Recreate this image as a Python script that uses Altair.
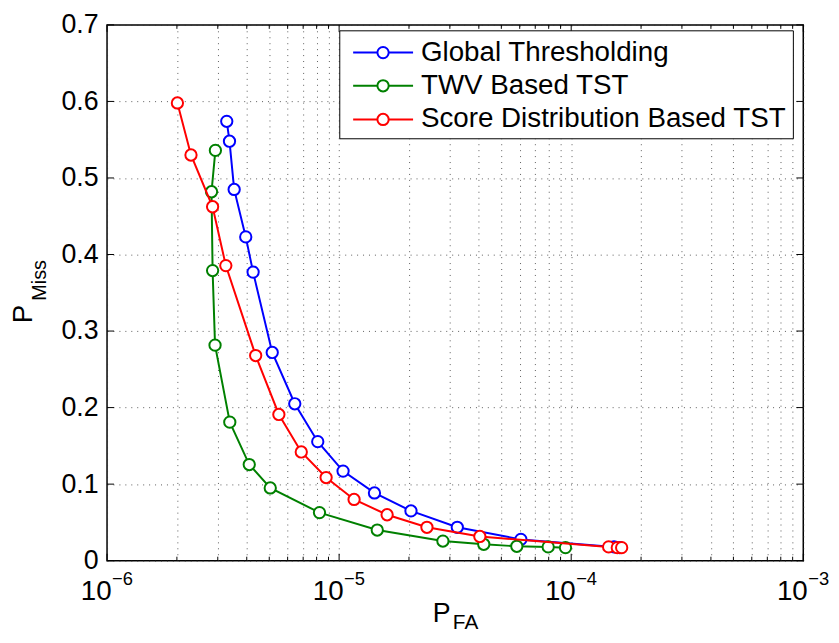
import altair as alt
import pandas as pd

# ---------------- data ----------------
series_names = ["Global Thresholding", "TWV Based TST", "Score Distribution Based TST"]
series_colors = ["#0000ff", "#008000", "#ff0000"]

gt_pfa = [3.28e-6, 3.37e-6, 3.53e-6, 3.96e-6, 4.26e-6, 5.15e-6, 6.44e-6, 8.09e-6,
          1.04e-5, 1.42e-5, 2.04e-5, 3.23e-5, 6.07e-5, 1.53e-4, 1.62e-4]
gt_pmiss = [0.574, 0.548, 0.485, 0.423, 0.377, 0.272, 0.205, 0.1555,
            0.117, 0.0885, 0.065, 0.0436, 0.0278, 0.018, 0.017]

twv_pfa = [2.93e-6, 2.82e-6, 2.85e-6, 2.92e-6, 3.38e-6, 4.10e-6, 5.05e-6, 8.23e-6,
           1.46e-5, 2.80e-5, 4.20e-5, 5.83e-5, 7.96e-5, 9.45e-5]
twv_pmiss = [0.536, 0.482, 0.379, 0.2816, 0.181, 0.1256, 0.095, 0.0628,
             0.040, 0.0256, 0.0214, 0.0188, 0.018, 0.017]

sd_pfa = [2.01e-6, 2.30e-6, 2.85e-6, 3.25e-6, 4.37e-6, 5.50e-6, 6.87e-6, 8.79e-6,
          1.16e-5, 1.61e-5, 2.39e-5, 4.04e-5, 1.45e-4, 1.58e-4, 1.65e-4]
sd_pmiss = [0.598, 0.530, 0.4624, 0.3855, 0.268, 0.191, 0.142, 0.1086,
            0.080, 0.060, 0.0436, 0.0316, 0.018, 0.017, 0.017]

x_major = [1e-6, 1e-5, 1e-4, 1e-3]
x_major_exp = ["\u22126", "\u22125", "\u22124", "\u22123"]
x_minor = [k * 10.0 ** e for e in (-6, -5, -4) for k in range(2, 10)]
y_ticks = [0, 0.1, 0.2, 0.3, 0.4, 0.5, 0.6, 0.7]

# ---------------- layout ----------------
W, H = 703, 541
FONT = "Liberation Sans"
GRID_COLOR = "#333333"
GRID_DASH = [1, 5]

x_scale = alt.Scale(type="log", domain=[1e-6, 1e-3], nice=False)
y_scale = alt.Scale(domain=[0, 0.7], nice=False, zero=False)

x_axis = alt.Axis(values=sorted(x_major + x_minor), labels=False, ticks=False, domain=False,
                  grid=True, gridColor=GRID_COLOR, gridDash=GRID_DASH, gridWidth=1,
                  gridOpacity=0.8, title=None)
y_axis = alt.Axis(values=y_ticks, format=".1~f", labelFontSize=27, labelFont=FONT,
                  labelColor="black", labelPadding=9, ticks=False, domain=False,
                  grid=True, gridColor=GRID_COLOR, gridDash=GRID_DASH, gridWidth=1,
                  gridOpacity=0.8, title=None)

X = alt.X("pfa:Q", scale=x_scale, axis=x_axis)
Y = alt.Y("pmiss:Q", scale=y_scale, axis=y_axis)

layers = []

# inside ticks
df_xmaj = pd.DataFrame({"pfa": x_major})
df_xmin = pd.DataFrame({"pfa": x_minor})
df_y = pd.DataFrame({"pmiss": y_ticks})
for df, ln in ((df_xmaj, 7), (df_xmin, 4)):
    layers.append(alt.Chart(df).mark_rule(color="black", strokeWidth=1).encode(
        x=X, y=alt.value(H), y2=alt.value(H - ln)))
    layers.append(alt.Chart(df).mark_rule(color="black", strokeWidth=1).encode(
        x=X, y=alt.value(0), y2=alt.value(ln)))
layers.append(alt.Chart(df_y).mark_rule(color="black", strokeWidth=1).encode(
    y=Y, x=alt.value(0), x2=alt.value(7)))
layers.append(alt.Chart(df_y).mark_rule(color="black", strokeWidth=1).encode(
    y=Y, x=alt.value(W - 7), x2=alt.value(W)))

# series
for pfa, pmiss, name, col in ((gt_pfa, gt_pmiss, series_names[0], series_colors[0]),
                              (twv_pfa, twv_pmiss, series_names[1], series_colors[1]),
                              (sd_pfa, sd_pmiss, series_names[2], series_colors[2])):
    df = pd.DataFrame({"pfa": pfa, "pmiss": pmiss, "idx": list(range(len(pfa)))})
    layers.append(alt.Chart(df).mark_line(color=col, strokeWidth=2).encode(
        x=X, y=Y, order="idx:Q"))
    layers.append(alt.Chart(df).mark_point(shape="circle", filled=True, fill="white",
                                           stroke=col, strokeWidth=2, size=130,
                                           opacity=1).encode(x=X, y=Y))

# x tick labels 10^e
df_lab = pd.DataFrame({"pfa": x_major, "base": ["10"] * 4, "exp": x_major_exp})
layers.append(alt.Chart(df_lab).mark_text(font=FONT, fontSize=28, color="black",
                                          align="center", baseline="middle", dx=-11).encode(
    x=X, y=alt.value(H + 32), text="base:N"))
layers.append(alt.Chart(df_lab).mark_text(font=FONT, fontSize=18.5, color="black",
                                          align="left", baseline="middle", dx=5).encode(
    x=X, y=alt.value(H + 19), text="exp:N"))

# axis titles with subscripts
layers.append(alt.Chart(pd.DataFrame({"t": ["P"]})).mark_text(
    font=FONT, fontSize=27, color="black", align="center", baseline="middle").encode(
    x=alt.value(338), y=alt.value(595), text="t:N"))
layers.append(alt.Chart(pd.DataFrame({"t": ["FA"]})).mark_text(
    font=FONT, fontSize=21, color="black", align="center", baseline="middle").encode(
    x=alt.value(362), y=alt.value(604), text="t:N"))
layers.append(alt.Chart(pd.DataFrame({"t": ["P"]})).mark_text(
    font=FONT, fontSize=28, color="black", align="center", baseline="middle", angle=270).encode(
    x=alt.value(-84), y=alt.value(292), text="t:N"))
layers.append(alt.Chart(pd.DataFrame({"t": ["Miss"]})).mark_text(
    font=FONT, fontSize=20, color="black", align="center", baseline="middle", angle=270).encode(
    x=alt.value(-67.5), y=alt.value(258), text="t:N"))

# legend
layers.append(alt.Chart(pd.DataFrame({"t": ["box"]})).mark_rect(
    fill="white", stroke="black", strokeWidth=1).encode(
    x=alt.value(235), x2=alt.value(693), y=alt.value(6), y2=alt.value(115)))
row_y = [28, 61.5, 95.5]
for name, col, ry in zip(series_names, series_colors, row_y):
    d = pd.DataFrame({"series": [name]})
    layers.append(alt.Chart(d).mark_rule(color=col, strokeWidth=2).encode(
        x=alt.value(248.5), x2=alt.value(309), y=alt.value(ry)))
    layers.append(alt.Chart(d).mark_point(shape="circle", filled=True, fill="white",
                                          stroke=col, strokeWidth=2, size=130,
                                          opacity=1).encode(
        x=alt.value(278.7), y=alt.value(ry)))
    layers.append(alt.Chart(d).mark_text(font=FONT, fontSize=28, color="black",
                                         align="left", baseline="middle").encode(
        x=alt.value(317), y=alt.value(ry), text="series:N"))

chart = alt.layer(*layers).properties(
    width=W, height=H,
    autosize=alt.AutoSizeParams(type="none"),
    padding={"left": 100, "top": 14, "right": 28, "bottom": 72},
    background="white",
).configure_view(stroke="black", strokeWidth=1.5)

chart.save("out.html", embed_options={"renderer": "svg", "actions": False})
